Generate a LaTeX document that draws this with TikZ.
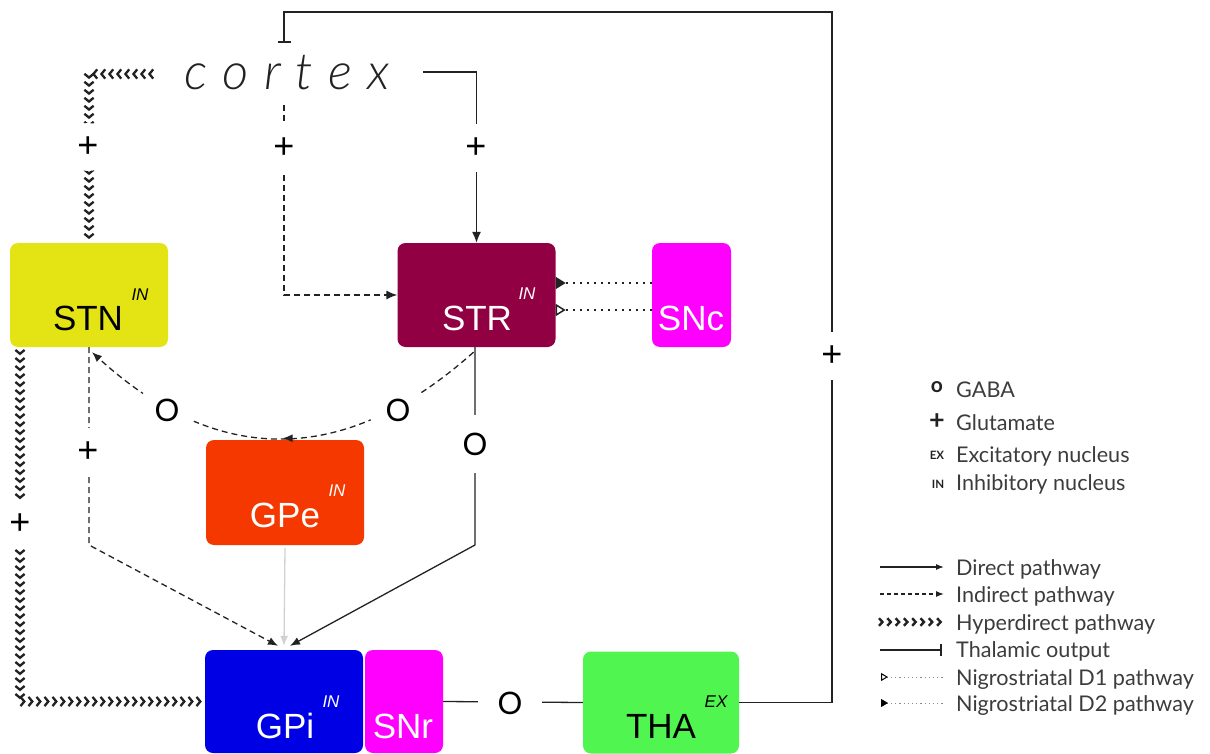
\documentclass[tikz,border=0pt]{standalone}
\usepackage{fontspec}
\setmainfont{Liberation Sans}
\newfontfamily\legfont{Lato}
\IfFontExistsTF{Lato Light Italic}{\newfontfamily\cortexfont{Lato Light Italic}}{\newfontfamily\cortexfont{Lato}[UprightFont=*-Italic]}
\newfontfamily\ofont{Lato}
\usetikzlibrary{arrows.meta,decorations.markings}
\definecolor{cstn}{RGB}{228,228,20}
\definecolor{cstr}{RGB}{145,0,66}
\definecolor{csnc}{RGB}{255,0,255}
\definecolor{cgpe}{RGB}{245,56,0}
\definecolor{cgpi}{RGB}{0,0,228}
\definecolor{ctha}{RGB}{80,245,80}
\definecolor{cline}{RGB}{34,34,34}
\definecolor{clegt}{RGB}{60,60,60}
\begin{document}
\begin{tikzpicture}[x=1pt,y=-1pt,
  box/.style={rectangle,rounded corners=8pt,inner sep=0pt,draw=none},
  lab/.style={font=\fontsize{35}{35}\selectfont,anchor=base,inner sep=0pt},
  supl/.style={font=\fontsize{17}{17}\selectfont\itshape,anchor=base,inner sep=0pt},
  ln/.style={line width=1.3pt,draw=cline},
  direct/.style={ln,-{Latex[length=11pt,width=9pt]}},
  indirect/.style={ln,dash pattern=on 6pt off 4pt},
  midarrow/.style={postaction={decorate},decoration={markings,mark=at position 0.5 with {\arrow[cline]{Latex[length=10pt,width=8pt]}}}},
  hyper/.style={postaction={decorate},decoration={markings,mark=between positions 0 and 1 step 8pt with {\draw[line width=2.3pt,draw=cline,line join=miter] (-3.2pt,-4.6pt) -- (0.6pt,0pt) -- (-3.2pt,4.6pt);}}},
  hyperleg/.style={postaction={decorate},decoration={markings,mark=between positions 0 and 1 step 8.3pt with {\draw[line width=2.4pt,draw=cline,line join=miter] (-3pt,-3.8pt) -- (0.5pt,0pt) -- (-3pt,3.8pt);}}},
  thal/.style={line width=1.5pt,draw=cline,-{Bar[width=13pt,line width=1.5pt]}},
  dotl/.style={line width=1.5pt,draw=cline,dash pattern=on 1.5pt off 5.5pt},
  gabam/.style={circle,fill=white,minimum size=58pt,inner sep=0pt,font=\ofont\fontsize{31}{31}\selectfont},
  plusm/.style={circle,fill=white,minimum size=48pt,inner sep=0pt,font=\fontsize{36}{36}\selectfont},
  legtxt/.style={font=\legfont\fontsize{21.6}{21.6}\selectfont,anchor=base west,inner sep=0pt,text=clegt},
  legsym/.style={font=\legfont\bfseries,inner sep=0pt,text=cline}
]
\useasboundingbox (0,0) rectangle (1210,754);

% boxes
\node[box,fill=cstn,minimum width=158pt,minimum height=104pt] (STN) at (89,295) {};
\node[box,fill=cstr,minimum width=158pt,minimum height=104pt] (STR) at (476.5,295) {};
\node[box,fill=csnc,minimum width=79pt,minimum height=104pt] (SNc) at (691.5,295) {};
\node[box,fill=cgpe,minimum width=158pt,minimum height=105pt] (GPe) at (285,492.5) {};
\node[box,fill=cgpi,minimum width=158pt,minimum height=103pt] (GPi) at (284,701.5) {};
\node[box,fill=csnc,minimum width=78pt,minimum height=103pt] (SNr) at (404,701.5) {};
\node[box,fill=ctha,minimum width=156pt,minimum height=102pt] (THA) at (661,702.5) {};

% box labels
\node[lab] (STNl) at (88,330) {STN};
\node[supl] (STNi) at (140,300) {IN};
\node[lab,text=white] (STRl) at (477,330) {STR};
\node[supl,text=white] (STRi) at (527,299) {IN};
\node[lab,text=white] (SNcl) at (691,330) {SNc};
\node[lab,text=white] (GPel) at (285,527) {GPe};
\node[supl,text=white] (GPei) at (337,496) {IN};
\node[lab,text=white] (GPil) at (285,738) {GPi};
\node[supl,text=white] (GPii) at (331,707) {IN};
\node[lab,text=white] (SNrl) at (403,738) {SNr};
\node[lab] (THAl) at (661,738) {THA};
\node[supl] (THAe) at (716,707) {EX};

% cortex
\node[font=\cortexfont\fontsize{51}{51}\selectfont,anchor=base,inner sep=0pt,text=cline] (cortex) at (287,90) {c\kern15pt o\kern15pt r\kern15pt t\kern15pt e\kern15pt x};
\coordinate (ctop) at (284,43);
\coordinate (cdir) at (423,72);
\coordinate (cind) at (284,105);
\coordinate (chyp) at (150,74);

% thalamic output
\draw[thal] (THA.east) -| (832,12) -| (ctop);
% cortex -> STR direct
\draw[direct] (cdir) -| (STR.north);
% cortex -> STR indirect
\draw[indirect,-{Latex[length=11pt,width=9pt]}] (cind) |- (STR.west);
% cortex -> STN hyperdirect
\path[hyper] (chyp) -| ([yshift=4pt]STN.north);
% STN -> GPi hyperdirect
\path[hyper] ([xshift=-69pt,yshift=-6pt]STN.south) |- (GPi.west);
% STN -> GPi indirect
\draw[indirect,-{Latex[length=10pt,width=8pt]}] (STN.south) -- (89,545) -- ([xshift=-6pt,yshift=4pt]GPi.north);
% STR -> GPe -> STN arc (indirect)
\draw[indirect,midarrow,-{Latex[length=10pt,width=8pt]}] ([xshift=-3pt,yshift=-5pt]STR.south) .. controls (345,467) and (218,467) .. ([xshift=3pt,yshift=-5pt]STN.south);
% STR -> GPi direct
\draw[direct,-{Latex[length=10pt,width=8pt]}] ([xshift=-1.5pt]STR.south) -- (475,545) -- ([xshift=6pt,yshift=4pt]GPi.north);
% GPe -> GPi
\draw[line width=1.3pt,draw=black!18,-{Latex[length=10pt,width=8pt,fill=black!18]}] ([yshift=-3pt]GPe.south) -- ([yshift=4pt]GPi.north);
% SNc -> STR nigrostriatal
\draw[dotl,-{Triangle[reversed,length=10pt,width=12pt]}] ([yshift=12pt]SNc.west) -- ([yshift=12pt]STR.east);
\draw[dotl,-{Triangle[open,reversed,length=10pt,width=12pt,fill=white]}] ([yshift=-15pt]SNc.west) -- ([yshift=-15pt]STR.east);
% SNr -> THA
\draw[ln] (SNr.east) -- (THA.west);

% markers
\node[plusm] (p1) at (88,147) {+};
\node[plusm] (p2) at (284,148) {+};
\node[plusm] (p3) at (476,148) {+};
\node[plusm] (p4) at (832,356) {+};
\node[plusm] (p5) at (88,452) {+};
\node[plusm] (p6) at (20,524) {+};
\node[gabam] (o1) at (167,410) {O};
\node[gabam] (o2) at (398,410) {O};
\node[gabam] (o3) at (475,444) {O};
\node[gabam,minimum size=64pt] (o4) at (510,703) {O};

% legend: symbols
\node[legsym,font=\legfont\bfseries\fontsize{21}{21}\selectfont] (lgo) at (937,387) {o};
\node[legsym,font=\legfont\bfseries\fontsize{27}{27}\selectfont] (lgp) at (937,422) {+};
\node[legsym,font=\legfont\bfseries\fontsize{11.5}{11.5}\selectfont] (lgex) at (937,455) {EX};
\node[legsym,font=\legfont\bfseries\fontsize{11.5}{11.5}\selectfont] (lgin) at (938,484) {IN};
\node[legtxt] (lgot) at (956,397) {GABA};
\node[legtxt] (lgpt) at (956,430) {Glutamate};
\node[legtxt] (lgext) at (956,462) {Excitatory nucleus};
\node[legtxt] (lgint) at (956,490) {Inhibitory nucleus};

% legend: pathways
\coordinate (l1a) at (880,567); \coordinate (l1b) at (944,567);
\coordinate (l2a) at (880,594); \coordinate (l2b) at (944,594);
\coordinate (l3a) at (882,622); \coordinate (l3b) at (942,622);
\coordinate (l4a) at (880,650); \coordinate (l4b) at (942,650);
\coordinate (l5a) at (881,677); \coordinate (l5b) at (945,677);
\coordinate (l6a) at (881,703); \coordinate (l6b) at (945,703);
\draw[ln,line width=1.2pt,-{Latex[length=8pt,width=6pt]}] (l1a) -- (l1b);
\draw[indirect,line width=1.2pt,dash pattern=on 4pt off 3pt,-{Latex[length=8pt,width=6pt]}] (l2a) -- (l2b);
\path[hyperleg] (l3a) -- (l3b);
\draw[line width=2pt,draw=cline,-{Bar[width=12pt,line width=1.6pt]}] (l4a) -- (l4b);
\draw[line width=1pt,draw=black!45,dash pattern=on 1.2pt off 3pt,{Triangle[open,reversed,length=7pt,width=8pt,fill=white,black,line width=1pt]}-] (l5a) -- (l5b);
\draw[line width=1pt,draw=black!45,dash pattern=on 1.2pt off 3pt,{Triangle[reversed,length=7pt,width=8pt,black]}-] (l6a) -- (l6b);
\node[legtxt] (l1t) at (956,575) {Direct pathway};
\node[legtxt] (l2t) at (956,602) {Indirect pathway};
\node[legtxt] (l3t) at (956,630) {Hyperdirect pathway};
\node[legtxt] (l4t) at (956,657) {Thalamic output};
\node[legtxt] (l5t) at (956,685) {Nigrostriatal D1 pathway};
\node[legtxt] (l6t) at (956,711) {Nigrostriatal D2 pathway};
\end{tikzpicture}
\end{document}
